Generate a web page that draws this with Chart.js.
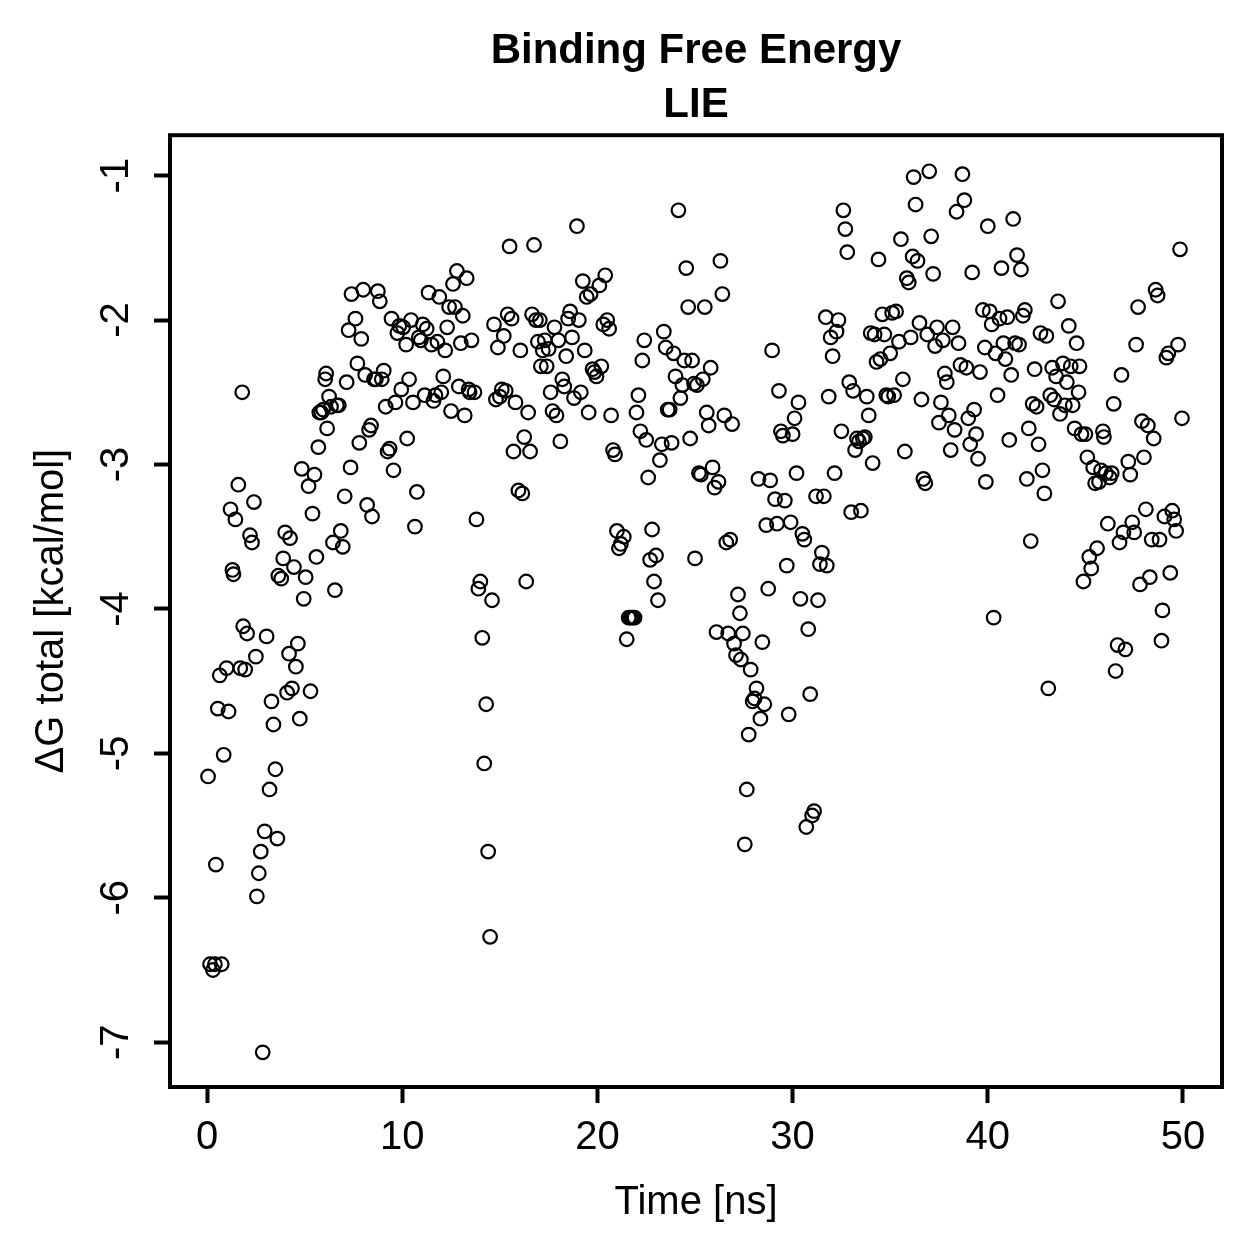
<!DOCTYPE html>
<html>
<head>
<meta charset="utf-8">
<title>Binding Free Energy LIE</title>
<script src="https://cdn.jsdelivr.net/npm/chart.js@4.4.1/dist/chart.umd.min.js"></script>
<style>
    html, body { margin: 0; padding: 0; background: #ffffff; }
    #lieChart { display: block; }
</style>
</head>
<body>
<canvas id="lieChart" width="1259" height="1259"></canvas>
<script>
// time [ns] and dG total [kcal/mol], split by 10 ns blocks
var time0to10 = [0.05, 0.15, 0.3, 0.4, 0.75, 0.45, 0.55, 0.65, 0.85, 1.0,
    1.1, 1.2, 1.3, 1.35, 1.45, 1.6, 1.7, 1.8, 1.85, 1.95,
    2.05, 2.2, 2.3, 2.4, 2.5, 2.55, 2.65, 2.75, 2.85, 2.95,
    3.05, 3.2, 3.3, 3.4, 3.5, 3.6, 3.65, 3.8, 3.9, 4.0,
    4.1, 4.2, 4.25, 4.35, 4.45, 4.55, 4.65, 4.75, 4.85, 4.95,
    5.05, 5.2, 5.3, 5.4, 5.5, 5.6, 5.7, 5.75, 5.85, 5.95,
    6.05, 6.1, 6.15, 6.25, 6.35, 6.45, 6.55, 6.65, 6.75, 6.85,
    6.95, 7.05, 7.15, 7.25, 7.35, 7.4, 7.6, 7.7, 7.8, 7.9,
    8.0, 8.1, 8.2, 8.3, 8.4, 8.45, 8.55, 8.65, 8.75, 8.85,
    8.95, 9.05, 9.15, 9.25, 9.35, 9.45, 9.55, 9.65, 9.75, 9.85,
    9.95];
var dG0to10 = [-5.16, -6.46, -6.50, -6.46, -6.46, -5.77, -4.69, -4.46, -5.01, -4.41,
    -4.71, -3.31, -3.73, -3.76, -3.38, -3.14, -4.41, -2.50, -4.12, -4.42,
    -4.17, -3.49, -3.54, -3.26, -4.33, -5.99, -5.83, -5.68, -7.07, -5.54,
    -4.19, -5.25, -4.64, -4.80, -5.11, -5.59, -3.77, -3.79, -3.65, -3.47,
    -4.58, -4.31, -3.51, -4.55, -3.71, -4.40, -4.24, -4.76, -3.03, -3.93,
    -3.78, -3.15, -4.57, -3.34, -3.07, -3.64, -2.88, -2.64, -2.64, -2.62,
    -2.41, -2.37, -2.75, -2.53, -2.60, -3.54, -3.87, -2.59, -2.59, -3.46,
    -3.57, -3.22, -2.43, -2.07, -3.02, -1.82, -1.99, -2.30, -2.85, -2.13,
    -1.79, -2.38, -3.28, -2.76, -2.73, -3.36, -2.41, -2.41, -1.80, -1.87,
    -2.41, -2.35, -2.60, -2.91, -2.89, -1.99, -3.04, -2.57, -2.09, -2.04,
    -2.48];

var time10to20 = [10.05, 10.2, 10.25, 10.35, 10.45, 10.55, 10.65, 10.75, 10.85, 10.95,
    11.05, 11.15, 11.25, 11.35, 11.5, 11.6, 11.7, 11.8, 11.9, 12.0,
    12.1, 12.2, 12.3, 12.4, 12.5, 12.6, 12.7, 12.8, 12.9, 13.0,
    13.1, 13.2, 13.3, 13.4, 13.45, 13.55, 13.7, 13.8, 13.9, 14.0,
    14.1, 14.2, 14.3, 14.4, 14.5, 14.6, 14.7, 14.8, 14.9, 15.0,
    15.1, 15.2, 15.3, 15.4, 15.5, 15.6, 15.7, 15.8, 15.95, 16.05,
    16.15, 16.25, 16.35, 16.45, 16.55, 16.65, 16.75, 16.85, 16.95, 17.05,
    17.1, 17.2, 17.3, 17.4, 17.5, 17.6, 17.7, 17.8, 17.9, 18.0,
    18.1, 18.2, 18.3, 18.4, 18.5, 18.6, 18.7, 18.8, 18.95, 19.05,
    19.15, 19.25, 19.35, 19.45, 19.55, 19.65, 19.75, 19.85, 19.95];
var dG10to20 = [-2.05, -2.17, -2.82, -2.41, -2.00, -2.57, -3.43, -3.19, -2.12, -2.14,
    -2.03, -2.52, -2.06, -1.81, -2.17, -2.56, -2.52, -2.15, -1.84, -2.50,
    -2.39, -2.21, -2.05, -1.91, -2.63, -1.75, -1.91, -1.66, -2.46, -2.16,
    -1.97, -2.66, -1.71, -2.48, -2.50, -2.14, -2.50, -3.38, -3.86, -3.81,
    -4.20, -5.07, -4.66, -5.68, -6.27, -3.94, -2.03, -2.55, -2.19, -2.53,
    -2.48, -2.11, -2.49, -1.96, -1.49, -1.99, -2.91, -2.57, -3.18, -2.21,
    -3.20, -2.81, -3.81, -2.64, -2.91, -1.96, -1.48, -2.00, -2.15, -2.00,
    -2.32, -2.21, -2.14, -2.32, -2.20, -2.50, -2.63, -2.05, -2.66, -2.14,
    -2.84, -2.41, -2.46, -2.25, -1.99, -1.94, -2.12, -2.54, -1.35, -2.00,
    -2.50, -1.73, -2.21, -1.84, -2.64, -1.82, -2.34, -2.36, -2.39];

var time20to30 = [20.1, 20.2, 20.3, 20.4, 20.5, 20.6, 20.7, 20.8, 20.9, 21.0,
    21.1, 21.2, 21.35, 21.5, 21.6, 21.7, 21.8, 21.9, 22.0, 22.1,
    22.2, 22.3, 22.4, 22.5, 22.6, 22.7, 22.8, 22.9, 23.0, 23.1,
    23.2, 23.3, 23.4, 23.5, 23.6, 23.7, 23.8, 23.9, 24.0, 24.15,
    24.25, 24.35, 24.45, 24.55, 24.65, 24.75, 24.85, 24.95, 25.0, 25.1,
    25.2, 25.3, 25.4, 25.5, 25.6, 25.7, 25.8, 25.9, 26.0, 26.1,
    26.2, 26.3, 26.4, 26.5, 26.6, 26.7, 26.8, 26.9, 27.0, 27.1,
    27.2, 27.3, 27.35, 27.45, 27.55, 27.65, 27.75, 27.85, 27.95, 28.05,
    28.15, 28.25, 28.35, 28.45, 28.55, 28.65, 28.75, 28.85, 28.95, 29.1,
    29.2, 29.3, 29.4, 29.5, 29.6, 29.7, 29.8, 29.9];
var dG20to30 = [-1.76, -2.32, -2.03, -1.69, -2.00, -2.06, -2.66, -2.90, -2.93, -3.46,
    -3.58, -3.55, -3.50, -4.21, -4.06, -4.06, -4.06, -4.06, -2.64, -2.52,
    -2.77, -2.28, -2.14, -2.83, -3.09, -3.66, -3.45, -3.81, -3.63, -3.94,
    -2.97, -2.86, -2.08, -2.19, -2.62, -2.62, -2.85, -2.23, -2.39, -1.24,
    -2.54, -2.45, -2.28, -1.64, -1.91, -2.82, -2.28, -2.44, -3.65, -2.45,
    -3.06, -3.07, -2.41, -1.91, -2.64, -2.73, -2.33, -3.02, -3.16, -4.16,
    -3.12, -1.59, -1.82, -2.66, -3.54, -4.17, -3.52, -2.72, -4.24, -4.32,
    -3.90, -4.03, -4.35, -4.17, -5.63, -5.25, -4.87, -4.42, -4.64, -4.62,
    -4.55, -3.10, -4.76, -4.23, -4.66, -3.42, -3.86, -3.11, -2.21, -3.24,
    -3.41, -2.49, -2.77, -2.80, -3.25, -3.70, -4.73, -3.40];

var time30to40 = [30.0, 30.1, 30.2, 30.3, 30.4, 30.5, 30.6, 30.7, 30.8, 30.9,
    31.0, 31.1, 31.2, 31.3, 31.4, 31.5, 31.6, 31.7, 31.75, 31.85,
    31.95, 32.05, 32.15, 32.25, 32.35, 32.5, 32.6, 32.7, 32.8, 32.9,
    33.0, 33.1, 33.2, 33.3, 33.4, 33.5, 33.6, 33.7, 33.8, 33.9,
    34.0, 34.1, 34.2, 34.3, 34.4, 34.5, 34.6, 34.7, 34.8, 34.9,
    35.0, 35.1, 35.2, 35.3, 35.45, 35.55, 35.65, 35.75, 35.85, 35.95,
    36.05, 36.15, 36.2, 36.3, 36.4, 36.5, 36.6, 36.7, 36.8, 36.9,
    37.0, 37.1, 37.2, 37.3, 37.4, 37.5, 37.6, 37.7, 37.8, 37.9,
    38.0, 38.1, 38.2, 38.3, 38.4, 38.5, 38.6, 38.7, 38.8, 38.9,
    39.0, 39.1, 39.2, 39.3, 39.4, 39.5, 39.6, 39.75, 39.85, 39.9];
var dG30to40 = [-2.79, -2.68, -3.06, -2.57, -3.93, -3.48, -3.52, -5.51, -4.14, -4.59,
    -5.43, -5.40, -3.22, -3.94, -3.69, -3.61, -3.22, -1.98, -3.70, -2.53,
    -2.12, -2.25, -3.06, -2.08, -2.00, -2.77, -1.24, -1.37, -1.53, -2.43,
    -3.33, -2.49, -2.90, -2.82, -2.84, -3.32, -2.82, -2.81, -2.53, -2.66,
    -2.09, -2.99, -2.10, -2.29, -1.58, -2.27, -1.96, -2.10, -2.52, -2.53,
    -2.23, -1.95, -2.52, -1.94, -2.15, -1.44, -2.41, -2.91, -1.71, -1.74,
    -2.12, -1.56, -1.01, -1.20, -1.59, -2.02, -2.55, -3.10, -3.13, -2.10,
    -0.97, -1.42, -1.68, -2.18, -2.05, -2.71, -2.57, -2.14, -2.37, -2.43,
    -2.66, -2.90, -2.05, -2.76, -1.25, -2.16, -2.31, -0.99, -1.17, -2.33,
    -2.68, -2.86, -1.67, -2.62, -2.79, -2.96, -2.36, -1.93, -2.19, -3.12];

var time40to50 = [40.0, 40.1, 40.2, 40.3, 40.4, 40.5, 40.6, 40.7, 40.8, 40.9,
    41.0, 41.1, 41.2, 41.3, 41.4, 41.5, 41.6, 41.7, 41.8, 41.9,
    42.0, 42.1, 42.2, 42.3, 42.4, 42.5, 42.6, 42.7, 42.8, 42.9,
    43.0, 43.1, 43.2, 43.3, 43.4, 43.5, 43.6, 43.7, 43.85, 43.95,
    44.05, 44.15, 44.25, 44.35, 44.45, 44.55, 44.65, 44.7, 44.8, 44.9,
    45.0, 45.1, 45.2, 45.3, 45.4, 45.5, 45.6, 45.7, 45.8, 45.9,
    45.95, 46.05, 46.15, 46.25, 46.35, 46.45, 46.55, 46.65, 46.75, 46.85,
    46.95, 47.05, 47.2, 47.3, 47.4, 47.5, 47.6, 47.7, 47.8, 47.9,
    48.0, 48.1, 48.2, 48.3, 48.4, 48.5, 48.6, 48.7, 48.8, 48.9,
    48.95, 49.05, 49.15, 49.25, 49.35, 49.45, 49.55, 49.65, 49.75, 49.85,
    49.95];
var dG40to50 = [-1.35, -1.94, -2.03, -4.06, -2.23, -2.52, -1.99, -1.64, -2.16, -2.27,
    -1.98, -2.83, -2.38, -1.30, -2.16, -1.55, -2.17, -1.65, -1.97, -1.93,
    -3.10, -2.75, -3.53, -2.58, -2.34, -2.60, -2.86, -2.09, -3.04, -3.20,
    -2.11, -4.55, -2.52, -2.33, -2.55, -2.39, -1.87, -2.65, -2.30, -2.59,
    -2.43, -2.04, -2.32, -2.59, -2.75, -2.16, -2.50, -2.32, -2.79, -3.81,
    -2.79, -2.95, -3.64, -3.72, -3.02, -3.13, -3.58, -3.12, -3.04, -2.77,
    -2.81, -3.06, -3.41, -3.09, -3.06, -2.58, -4.43, -4.25, -3.54, -2.38,
    -3.47, -4.28, -2.98, -3.07, -3.40, -3.47, -2.17, -1.91, -3.83, -2.70,
    -2.95, -3.31, -2.73, -3.78, -3.52, -2.82, -1.79, -1.83, -3.52, -4.22,
    -4.01, -3.36, -2.26, -2.23, -3.75, -3.32, -3.38, -3.46, -2.17, -1.51,
    -2.68];

var xTicks = [0, 10, 20, 30, 40, 50];
var yTicks = [-7, -6, -5, -4, -3, -2, -1];

var FONT = "'Liberation Sans', Arial, Helvetica, sans-serif";

function buildPoints() {
    var times = [].concat(time0to10, time10to20, time20to30, time30to40, time40to50);
    var values = [].concat(dG0to10, dG10to20, dG20to30, dG30to40, dG40to50);
    var pts = [];
    for (var i = 0; i < times.length; i++) {
        pts.push({x: times[i], y: values[i]});
    }
    return pts;
}

// R style box round the plot region
var boxPlugin = {
    id: 'plotBox',
    afterDraw: function (chart) {
        var a = chart.chartArea;
        var ctx = chart.ctx;
        ctx.save();
        ctx.strokeStyle = '#000000';
        ctx.lineWidth = 4;
        ctx.strokeRect(a.left, a.top, a.right - a.left, a.bottom - a.top);
        ctx.restore();
    }
};

function lieChart() {
    new Chart(document.getElementById('lieChart'), {
        type: 'scatter',
        data: {
            datasets: [{
                data: buildPoints(),
                pointStyle: 'circle',
                pointRadius: 6.8,
                pointHoverRadius: 6.8,
                pointBorderWidth: 2.2,
                borderColor: '#000000',
                backgroundColor: 'rgba(0,0,0,0)'
            }]
        },
        options: {
            responsive: false,
            animation: false,
            devicePixelRatio: 1,
            layout: {
                padding: {left: 0, right: 37, top: 0, bottom: 0}
            },
            plugins: {
                legend: {display: false},
                tooltip: {enabled: false},
                title: {
                    display: true,
                    fullSize: false,
                    text: ['Binding Free Energy', 'LIE'],
                    color: '#000000',
                    font: {family: FONT, size: 42, weight: 'bold', lineHeight: 1.3},
                    padding: {top: 24, bottom: 2}
                }
            },
            scales: {
                x: {
                    type: 'linear',
                    min: -1.9,
                    max: 52.0,
                    afterFit: function (s) { s.height = 172; },
                    afterBuildTicks: function (s) {
                        s.ticks = xTicks.map(function (v) { return {value: v}; });
                    },
                    border: {display: false},
                    grid: {
                        drawOnChartArea: false,
                        drawTicks: true,
                        tickLength: 16,
                        tickWidth: 4,
                        tickColor: '#000000'
                    },
                    ticks: {
                        color: '#000000',
                        padding: 11,
                        maxRotation: 0,
                        font: {family: FONT, size: 40}
                    },
                    title: {
                        display: true,
                        text: 'Time [ns]',
                        color: '#000000',
                        font: {family: FONT, size: 40},
                        padding: {top: 0, bottom: 32}
                    }
                },
                y: {
                    type: 'linear',
                    min: -7.31,
                    max: -0.72,
                    afterFit: function (s) { s.width = 170; },
                    afterBuildTicks: function (s) {
                        s.ticks = yTicks.map(function (v) { return {value: v}; });
                    },
                    border: {display: false},
                    grid: {
                        drawOnChartArea: false,
                        drawTicks: true,
                        tickLength: 16,
                        tickWidth: 4,
                        tickColor: '#000000'
                    },
                    ticks: {
                        color: '#000000',
                        padding: 19,
                        minRotation: 90,
                        maxRotation: 90,
                        crossAlign: 'center',
                        font: {family: FONT, size: 40}
                    },
                    title: {
                        display: true,
                        text: '\u0394G total [kcal/mol]',
                        color: '#000000',
                        font: {family: FONT, size: 40},
                        padding: {top: 28, bottom: 0}
                    }
                }
            }
        },
        plugins: [boxPlugin]
    });
}

lieChart();
</script>
</body>
</html>
